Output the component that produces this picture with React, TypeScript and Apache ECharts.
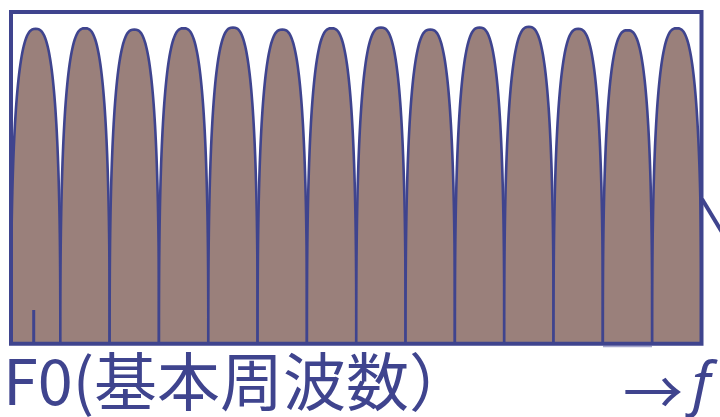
import React, { useEffect, useRef } from "react";
import * as echarts from "echarts";

// harmonic numbers (multiples of F0)
const harmonics = [1, 2, 3, 4, 5, 6, 7, 8, 9, 10, 11, 12, 13, 14];
// relative peak level of each harmonic (0-100 scale of the frame height)
const peakLevels = [94.9, 95.1, 94.7, 95.1, 95.3, 94.7, 95.1, 95.3, 94.7, 95.3, 95.5, 94.9, 94.5, 95.1];
const xMax = 14;
const yMax = 100;
const leftLabel = "F0(基本周波数）";
const rightArrow = "→";
const rightSymbol = "f";

const BLUE = "#3f448e";
const FILL = "#9a807b";
const EXP = 2.7;

export default function App() {
  const ref = useRef<HTMLDivElement>(null);
  useEffect(() => {
    const chart = echarts.init(ref.current!, null, { renderer: "svg" });
    chart.setOption({
      animation: false,
      grid: { left: 11, top: 12, width: 690.5, height: 331.7, show: false },
      xAxis: { type: "value", min: 0, max: xMax, show: false },
      yAxis: { type: "value", min: 0, max: yMax, show: false },
      series: [
        {
          type: "custom",
          clip: false,
          data: harmonics.map((h, i) => [h, peakLevels[i]]),
          renderItem: (params: any, api: any) => {
            const k = api.value(0);
            const v = api.value(1);
            const pl = api.coord([k - 1, 0]);
            const pr = api.coord([k, 0]);
            const pt = api.coord([k - 0.5, v]);
            const xc = pt[0];
            const yb = pl[1];
            const hw = (pr[0] - pl[0]) / 2;
            const H = yb - pt[1];
            const pts: number[][] = [];
            const N = 90;
            for (let i = 0; i <= N; i++) {
              const th = Math.PI - (Math.PI * i) / N;
              const c = Math.cos(th);
              const s = Math.sin(th);
              const x = Math.sign(c) * Math.pow(Math.abs(c), 2 / EXP);
              const y = Math.pow(Math.abs(s), 2 / EXP);
              pts.push([xc + x * hw, yb - y * H]);
            }
            return {
              type: "polygon",
              shape: { points: pts },
              style: { fill: FILL, stroke: BLUE, lineWidth: 2.6 },
            };
          },
        },
      ],
      graphic: [
        {
          type: "rect",
          z: 100,
          shape: { x: 11, y: 12, width: 690.5, height: 331.7 },
          style: { fill: "none", stroke: BLUE, lineWidth: 4 },
        },
        {
          type: "line",
          z: 100,
          shape: { x1: 33.7, y1: 310, x2: 33.7, y2: 343 },
          style: { stroke: BLUE, lineWidth: 3 },
        },
        {
          type: "line",
          z: 100,
          shape: { x1: 702, y1: 199, x2: 740, y2: 262 },
          style: { stroke: BLUE, lineWidth: 4 },
        },
        {
          type: "line",
          z: 99,
          shape: { x1: 603, y1: 346.5, x2: 652, y2: 346.5 },
          style: { stroke: "#a5a7cf", lineWidth: 1.5 },
        },
        {
          type: "text",
          z: 100,
          style: {
            text: leftLabel,
            x: 3,
            y: 377,
            fill: BLUE,
            font: '63px "Noto Sans CJK JP"',
            textAlign: "left",
            textVerticalAlign: "middle",
          },
        },
        {
          type: "text",
          z: 100,
          style: {
            text: rightArrow,
            x: 623,
            y: 388,
            fill: BLUE,
            font: '60px "Noto Sans CJK JP"',
            textAlign: "left",
            textVerticalAlign: "middle",
          },
        },
        {
          type: "text",
          z: 100,
          style: {
            text: rightSymbol,
            x: 692,
            y: 381,
            fill: BLUE,
            font: 'italic 58px "Noto Sans"',
            textAlign: "left",
            textVerticalAlign: "middle",
          },
        },
      ],
    });
    return () => chart.dispose();
  }, []);
  return (
    <div
      ref={ref}
      style={{ position: "fixed", left: 0, top: 0, width: 720, height: 417 }}
    />
  );
}
